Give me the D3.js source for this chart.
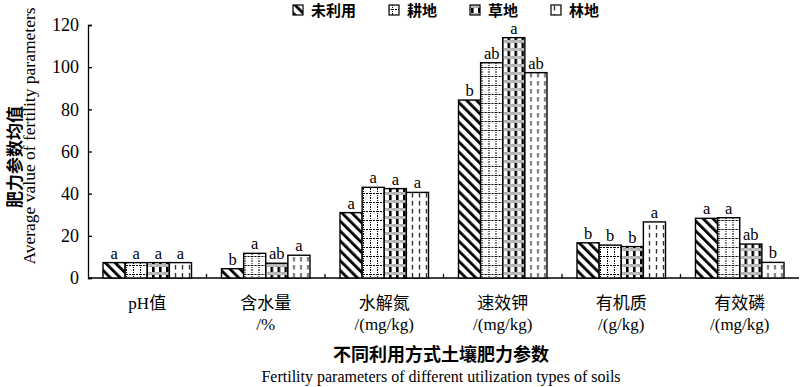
<!DOCTYPE html>
<html>
<head>
<meta charset="utf-8">
<script src="https://cdn.jsdelivr.net/npm/d3@7"></script>
<style>
  body { margin: 0; background: #fff; }
  svg text { fill: #000; }
</style>
</head>
<body>
<div id="chart"></div>
<script>
// categories, two label lines each
var categories = ["pH值", "含水量", "水解氮", "速效钾", "有机质", "有效磷"];
var categoryUnits = ["", "/%", "/(mg/kg)", "/(mg/kg)", "/(g/kg)", "/(mg/kg)"];
var series = ["未利用", "耕地", "草地", "林地"];

// values per series, in category order
var unusedValues = [7.3, 4.4, 31.0, 84.4, 16.7, 28.3];
var farmValues   = [7.3, 11.7, 43.0, 102.1, 15.6, 28.6];
var grassValues  = [7.3, 7.0, 42.4, 114.0, 14.9, 16.1];
var forestValues = [7.3, 10.8, 40.6, 97.4, 26.6, 7.4];

// significance letters per series
var unusedLetters = ["a", "b", "a", "b", "b", "a"];
var farmLetters   = ["a", "a", "a", "ab", "b", "a"];
var grassLetters  = ["a", "ab", "a", "a", "b", "ab"];
var forestLetters = ["a", "a", "a", "ab", "a", "b"];

var yTicks = [0, 20, 40, 60, 80, 100, 120];

var allValues = [unusedValues, farmValues, grassValues, forestValues];
var allLetters = [unusedLetters, farmLetters, grassLetters, forestLetters];

var width = 800, height = 387;
var margin = {top: 25, right: 1, bottom: 109, left: 88};
var serif = "Liberation Serif, Noto Sans CJK SC, serif";
var cjk = "Noto Sans CJK SC, sans-serif";

var svg = d3.select("#chart").append("svg")
  .attr("width", width)
  .attr("height", height);

//=================== PATTERNS ===================
var defs = svg.append("defs");

// 未利用: backslash stripes
var p0 = defs.append("pattern")
  .attr("id", "pat0").attr("patternUnits", "userSpaceOnUse")
  .attr("width", 7).attr("height", 7)
  .attr("patternTransform", "rotate(-45)");
p0.append("rect").attr("width", 7).attr("height", 7).attr("fill", "#fff");
p0.append("rect").attr("x", 0).attr("width", 2.8).attr("height", 7).attr("fill", "#000");

// 耕地: dotted grid
var p1 = defs.append("pattern")
  .attr("id", "pat1").attr("patternUnits", "userSpaceOnUse")
  .attr("width", 7).attr("height", 9);
p1.append("rect").attr("width", 7).attr("height", 9).attr("fill", "#fff");
p1.append("line").attr("x1", 3.5).attr("x2", 3.5).attr("y1", 0).attr("y2", 9)
  .attr("stroke", "#000").attr("stroke-width", 1).attr("stroke-dasharray", "1,1");
p1.append("line").attr("x1", 0).attr("x2", 7).attr("y1", 4.5).attr("y2", 4.5)
  .attr("stroke", "#000").attr("stroke-width", 1).attr("stroke-dasharray", "1,1");

// 草地: plaid of black columns and gray checker bands
var p2 = defs.append("pattern")
  .attr("id", "pat2").attr("patternUnits", "userSpaceOnUse")
  .attr("width", 7).attr("height", 8);
p2.append("rect").attr("width", 7).attr("height", 8).attr("fill", "#fff");
p2.append("rect").attr("x", 1).attr("width", 2.6).attr("height", 8).attr("fill", "#000");
p2.append("rect").attr("x", 0).attr("y", 0).attr("width", 7).attr("height", 3).attr("fill", "#9a9a9a");
[0.5, 2.5, 4.5].forEach(function(cx) {
  p2.append("rect").attr("x", cx).attr("y", 0.5).attr("width", 1).attr("height", 1).attr("fill", "#fff");
  p2.append("rect").attr("x", cx + 1).attr("y", 1.5).attr("width", 1).attr("height", 1).attr("fill", "#fff");
});

// 林地: vertical dashes
var p3 = defs.append("pattern")
  .attr("id", "pat3").attr("patternUnits", "userSpaceOnUse")
  .attr("width", 7).attr("height", 8);
p3.append("rect").attr("width", 7).attr("height", 8).attr("fill", "#fff");
p3.append("line").attr("x1", 3.5).attr("x2", 3.5).attr("y1", 1).attr("y2", 5.5)
  .attr("stroke", "#333").attr("stroke-width", 1.4);

//=================== SCALES ===================
var x0 = d3.scaleBand()
  .domain(categories)
  .range([margin.left, width - margin.right])
  .paddingInner(0).paddingOuter(0);

var x1 = d3.scaleBand()
  .domain(d3.range(series.length))
  .range([15, x0.bandwidth() - 15])
  .padding(0);

var y = d3.scaleLinear()
  .domain([0, 120])
  .range([height - margin.bottom, margin.top]);

//=================== AXES ===================
var yAxis = svg.append("g")
  .attr("transform", "translate(" + margin.left + ",0)")
  .call(d3.axisLeft(y).tickValues(yTicks).tickSize(-4).tickPadding(9));
yAxis.select(".domain").attr("stroke", "#000").attr("stroke-width", 1.3);
yAxis.selectAll(".tick line").attr("stroke", "#000").attr("stroke-width", 1.3);
yAxis.selectAll(".tick text")
  .attr("font-family", serif).attr("font-size", 18);

var xAxisY = y(0);
svg.append("line")
  .attr("x1", margin.left).attr("x2", width - margin.right)
  .attr("y1", xAxisY).attr("y2", xAxisY)
  .attr("stroke", "#000").attr("stroke-width", 1.3);
svg.selectAll("line.catTick")
  .data(categories.slice(1))
  .enter().append("line")
  .attr("class", "catTick")
  .attr("x1", function(d) { return x0(d); })
  .attr("x2", function(d) { return x0(d); })
  .attr("y1", xAxisY).attr("y2", xAxisY - 4)
  .attr("stroke", "#000").attr("stroke-width", 1.3);

// category labels
var catLabel = svg.selectAll("g.catLabel")
  .data(categories)
  .enter().append("g")
  .attr("class", "catLabel")
  .attr("transform", function(d) { return "translate(" + (x0(d) + x0.bandwidth() / 2) + ",0)"; });
catLabel.append("text")
  .attr("y", 309)
  .attr("text-anchor", "middle")
  .attr("font-family", serif)
  .attr("font-size", 17)
  .text(function(d) { return d; });
catLabel.append("text")
  .attr("y", 330)
  .attr("text-anchor", "middle")
  .attr("font-family", serif)
  .attr("font-size", 17)
  .text(function(d, i) { return categoryUnits[i]; });

//=================== BARS ===================
var groups = svg.selectAll("g.cat")
  .data(categories)
  .enter().append("g")
  .attr("class", "cat")
  .attr("transform", function(d) { return "translate(" + x0(d) + ",0)"; });

function barData(d, ci) {
  return series.map(function(s, si) {
    return {si: si, value: allValues[si][ci], letter: allLetters[si][ci]};
  });
}

groups.selectAll("rect")
  .data(barData)
  .enter().append("rect")
  .attr("x", function(d) { return x1(d.si); })
  .attr("y", function(d) { return y(d.value); })
  .attr("width", x1.bandwidth())
  .attr("height", function(d) { return y(0) - y(d.value); })
  .attr("fill", function(d) { return "url(#pat" + d.si + ")"; })
  .attr("stroke", "#000")
  .attr("stroke-width", 1.4);

groups.selectAll("text.letter")
  .data(barData)
  .enter().append("text")
  .attr("class", "letter")
  .attr("x", function(d) { return x1(d.si) + x1.bandwidth() / 2; })
  .attr("y", function(d) { return y(d.value) - 4; })
  .attr("text-anchor", "middle")
  .attr("font-family", serif)
  .attr("font-size", 16.5)
  .text(function(d) { return d.letter; });

//=================== LEGEND ===================
var legendX = [293, 389, 470, 551];
var legend = svg.selectAll("g.legend")
  .data(series)
  .enter().append("g")
  .attr("class", "legend")
  .attr("transform", function(d, i) { return "translate(" + legendX[i] + ",5)"; });
legend.append("rect")
  .attr("width", 10).attr("height", 10)
  .attr("fill", function(d, i) { return "url(#pat" + i + ")"; })
  .attr("stroke", "#000").attr("stroke-width", 1.2);
legend.append("text")
  .attr("x", 18).attr("y", 11)
  .attr("font-family", cjk)
  .attr("font-size", 15)
  .attr("font-weight", "bold")
  .text(function(d) { return d; });

//=================== TITLES ===================
svg.append("text")
  .attr("transform", "translate(21,157) rotate(-90)")
  .attr("text-anchor", "middle")
  .attr("font-family", cjk)
  .attr("font-size", 17)
  .attr("font-weight", "bold")
  .text("肥力参数均值");
svg.append("text")
  .attr("transform", "translate(35,136) rotate(-90)")
  .attr("text-anchor", "middle")
  .attr("font-family", serif)
  .attr("font-size", 17.5)
  .text("Average value of fertility parameters");

svg.append("text")
  .attr("x", 441).attr("y", 361)
  .attr("text-anchor", "middle")
  .attr("font-family", cjk)
  .attr("font-size", 18)
  .attr("font-weight", "bold")
  .text("不同利用方式土壤肥力参数");
svg.append("text")
  .attr("x", 441).attr("y", 382)
  .attr("text-anchor", "middle")
  .attr("font-family", serif)
  .attr("font-size", 16)
  .text("Fertility parameters of different utilization types of soils");
</script>
</body>
</html>
